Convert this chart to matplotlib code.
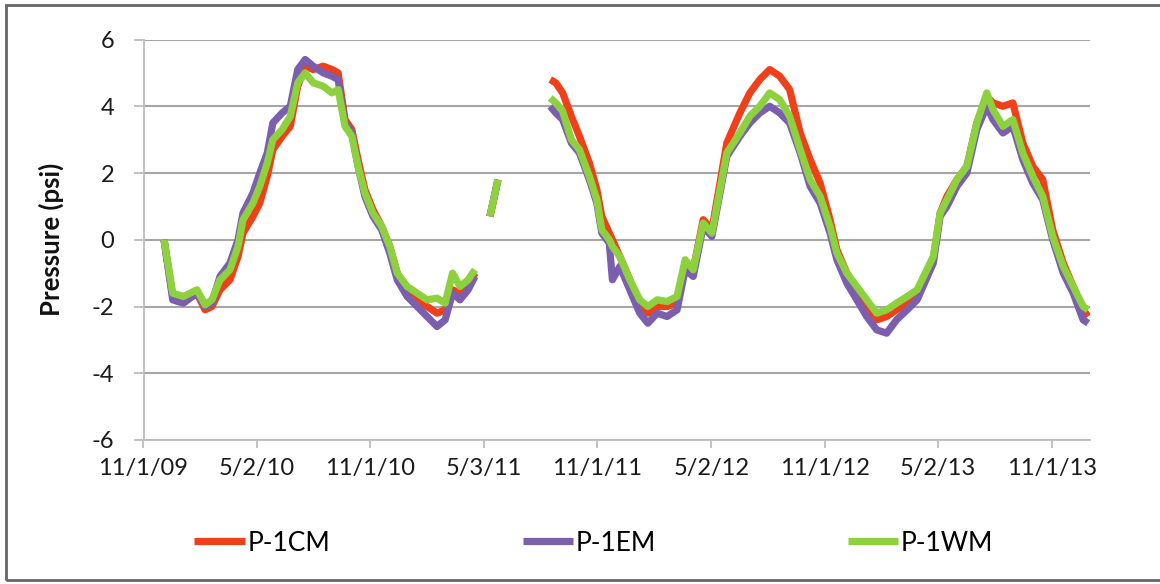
import numpy as np
import pandas as pd
import matplotlib
matplotlib.use("Agg")
import matplotlib.pyplot as plt
from matplotlib.patches import Rectangle

# ---------------- data ----------------
dates = [
    # segment 1
    "2009-12-04", "2009-12-18", "2010-01-04", "2010-01-26", "2010-02-08", "2010-02-19",
    "2010-03-04", "2010-03-20", "2010-04-02", "2010-04-10", "2010-04-26", "2010-05-07",
    "2010-05-19", "2010-05-28", "2010-06-12", "2010-06-25", "2010-07-07", "2010-07-19",
    "2010-08-01", "2010-08-17", "2010-08-31", "2010-09-10", "2010-09-21", "2010-10-02",
    "2010-10-12", "2010-10-23", "2010-11-05", "2010-11-19", "2010-12-02", "2010-12-14",
    "2010-12-30", "2011-01-15", "2011-01-31", "2011-02-16", "2011-03-01", "2011-03-13",
    "2011-03-25", "2011-04-07", "2011-04-18",
    # gap
    "2011-04-30",
    # segment 2
    "2011-05-12", "2011-05-18", "2011-05-25",
    # gap
    "2011-07-01",
    # segment 3
    "2011-08-17", "2011-08-26", "2011-09-06", "2011-09-20", "2011-10-03", "2011-10-19",
    "2011-10-31", "2011-11-08", "2011-11-20", "2011-11-25", "2011-12-07", "2011-12-23",
    "2012-01-08", "2012-01-21", "2012-02-05", "2012-02-21", "2012-03-08", "2012-03-21",
    "2012-04-03", "2012-04-19", "2012-05-03", "2012-05-16", "2012-05-27", "2012-06-17",
    "2012-07-03", "2012-07-19", "2012-08-04", "2012-08-20", "2012-09-05", "2012-09-22",
    "2012-10-08", "2012-10-24", "2012-11-09", "2012-11-20", "2012-12-06", "2012-12-22",
    "2013-01-07", "2013-01-23", "2013-02-08", "2013-02-24", "2013-03-13", "2013-03-29",
    "2013-04-24", "2013-05-05", "2013-05-16", "2013-06-01", "2013-06-17", "2013-07-03",
    "2013-07-19", "2013-07-29", "2013-08-14", "2013-08-30", "2013-09-15", "2013-10-01",
    "2013-10-17", "2013-11-02", "2013-11-19", "2013-12-05", "2013-12-21", "2013-12-29",
]

nan = np.nan

p1cm = [
    0.0, -1.7, -1.8, -1.6, -2.1, -2.0,
    -1.5, -1.2, -0.5, 0.2, 0.7, 1.1,
    1.9, 2.7, 3.1, 3.4, 4.6, 5.2,
    5.1, 5.2, 5.1, 5.0, 3.6, 3.3,
    2.4, 1.5, 0.9, 0.4, -0.2, -1.0,
    -1.5, -1.8, -2.0, -2.2, -2.1, -1.5,
    -1.6, -1.4, -1.0,
    nan,
    0.7, 1.2, 1.8,
    nan,
    4.8, 4.7, 4.4, 3.7, 3.1, 2.3,
    1.5, 0.7, 0.2, 0.0, -0.5, -1.2,
    -1.9, -2.2, -2.0, -2.0, -1.9, -0.7,
    -0.9, 0.6, 0.3, 1.7, 2.9, 3.8,
    4.4, 4.8, 5.1, 4.9, 4.5, 3.2,
    2.4, 1.7, 0.6, -0.3, -1.0, -1.5,
    -2.0, -2.4, -2.3, -2.1, -1.9, -1.6,
    -0.6, 0.8, 1.3, 1.8, 2.2, 3.5,
    4.3, 4.1, 4.0, 4.1, 2.9, 2.2,
    1.8, 0.3, -0.7, -1.4, -2.1, -2.3,
]

p1em = [
    0.0, -1.8, -1.9, -1.6, -2.0, -1.9,
    -1.1, -0.7, 0.0, 0.8, 1.4, 2.0,
    2.6, 3.5, 3.8, 4.0, 5.1, 5.4,
    5.2, 5.0, 4.9, 4.8, 3.5, 3.2,
    2.2, 1.3, 0.7, 0.3, -0.4, -1.2,
    -1.7, -2.0, -2.3, -2.6, -2.4, -1.6,
    -1.8, -1.5, -1.1,
    nan,
    0.7, 1.2, 1.8,
    nan,
    4.0, 3.8, 3.6, 2.9, 2.6, 1.8,
    1.1, 0.2, -0.1, -1.2, -0.8, -1.5,
    -2.2, -2.5, -2.2, -2.3, -2.1, -0.9,
    -1.1, 0.4, 0.1, 1.4, 2.5, 3.1,
    3.5, 3.8, 4.0, 3.8, 3.5, 2.6,
    1.6, 1.1, 0.2, -0.6, -1.3, -1.8,
    -2.3, -2.7, -2.8, -2.4, -2.1, -1.8,
    -0.7, 0.7, 1.0, 1.6, 2.0, 3.3,
    4.0, 3.6, 3.2, 3.4, 2.4, 1.7,
    1.2, 0.0, -1.0, -1.6, -2.4, -2.5,
]

p1wm = [
    0.0, -1.6, -1.7, -1.5, -1.95, -1.8,
    -1.2, -0.9, -0.2, 0.6, 1.1, 1.6,
    2.3, 3.0, 3.3, 3.7, 4.7, 5.0,
    4.7, 4.6, 4.4, 4.5, 3.4, 3.1,
    2.2, 1.4, 0.8, 0.4, -0.2, -1.0,
    -1.4, -1.6, -1.8, -1.75, -1.9, -1.0,
    -1.4, -1.2, -0.9,
    nan,
    0.7, 1.2, 1.8,
    nan,
    4.25, 4.1, 3.85, 3.0, 2.7, 1.9,
    1.2, 0.3, 0.0, -0.2, -0.5, -1.2,
    -1.8, -2.0, -1.8, -1.85, -1.7, -0.6,
    -0.9, 0.5, 0.2, 1.5, 2.6, 3.2,
    3.7, 4.0, 4.4, 4.2, 3.7, 2.7,
    1.8, 1.3, 0.4, -0.4, -1.0, -1.4,
    -1.8, -2.2, -2.1, -1.9, -1.7, -1.5,
    -0.5, 0.8, 1.2, 1.8, 2.2, 3.5,
    4.4, 3.9, 3.4, 3.6, 2.6, 1.9,
    1.3, 0.1, -0.8, -1.4, -2.0, -2.1,
]

series_names = ["P-1CM", "P-1EM", "P-1WM"]
series_colors = ["#f0401a", "#7b5fae", "#8ed13f"]

tick_dates = ["2009-11-01", "2010-05-02", "2010-11-01", "2011-05-03", "2011-11-01",
              "2012-05-02", "2012-11-01", "2013-05-02", "2013-11-01"]
tick_labels = ["11/1/09", "5/2/10", "11/1/10", "5/3/11", "11/1/11",
               "5/2/12", "11/1/12", "5/2/13", "11/1/13"]
y_ticks = [-6, -4, -2, 0, 2, 4, 6]

# ---------------- plot ----------------
plt.rcParams['font.family'] = ['Lato', 'DejaVu Sans']

fig = plt.figure(figsize=(11.6, 5.84), dpi=100)
ax = fig.add_axes([143.5 / 1160, 1 - 440 / 584, (1090 - 143.5) / 1160, (440 - 39.5) / 584])

x = pd.to_datetime(dates)
for vals, name, col in zip([p1cm, p1em, p1wm], series_names, series_colors):
    ax.plot(x, vals, color=col, lw=5.2, label=name, solid_joinstyle='round',
            solid_capstyle='butt')

ax.set_xlim(pd.Timestamp("2009-11-01"), pd.Timestamp("2014-01-01"))
ax.set_ylim(-6, 6)
ax.set_yticks(y_ticks)
ax.set_yticklabels([str(v) for v in y_ticks])
ax.set_xticks(pd.to_datetime(tick_dates))
ax.set_xticklabels(tick_labels)

grid_col = "#a6a6a6"
ax.grid(axis='y', color=grid_col, lw=1.5)
ax.set_axisbelow(True)
for s in ['top', 'right']:
    ax.spines[s].set_visible(False)
for s in ['left', 'bottom']:
    ax.spines[s].set_color("#bdbdbd")
    ax.spines[s].set_linewidth(1.3)
ax.tick_params(axis='both', colors="#bdbdbd", width=1.3, labelsize=17,
               labelcolor="#1a1a1a")
ax.tick_params(axis='x', length=6, pad=7)
ax.tick_params(axis='y', length=7, pad=14)

ax.set_ylabel("Pressure (psi)", fontsize=18.5, fontweight='bold', color="#111111", labelpad=20)

leg = fig.legend(loc='center', bbox_to_anchor=(0.512, 0.07), ncol=3, frameon=False,
                 fontsize=19, handlelength=1.9, handletextpad=0.1, columnspacing=7.3)
for line in leg.get_lines():
    line.set_linewidth(5.2)

# outer frame (left, top, bottom visible; right cropped)
fig.patches.append(Rectangle((6 / 1160, 4 / 584), 1.02, 1 - 9 / 584, transform=fig.transFigure,
                             fill=False, edgecolor="#666666", lw=2, zorder=10))

fig.savefig("out.png", dpi=100, facecolor='white')
